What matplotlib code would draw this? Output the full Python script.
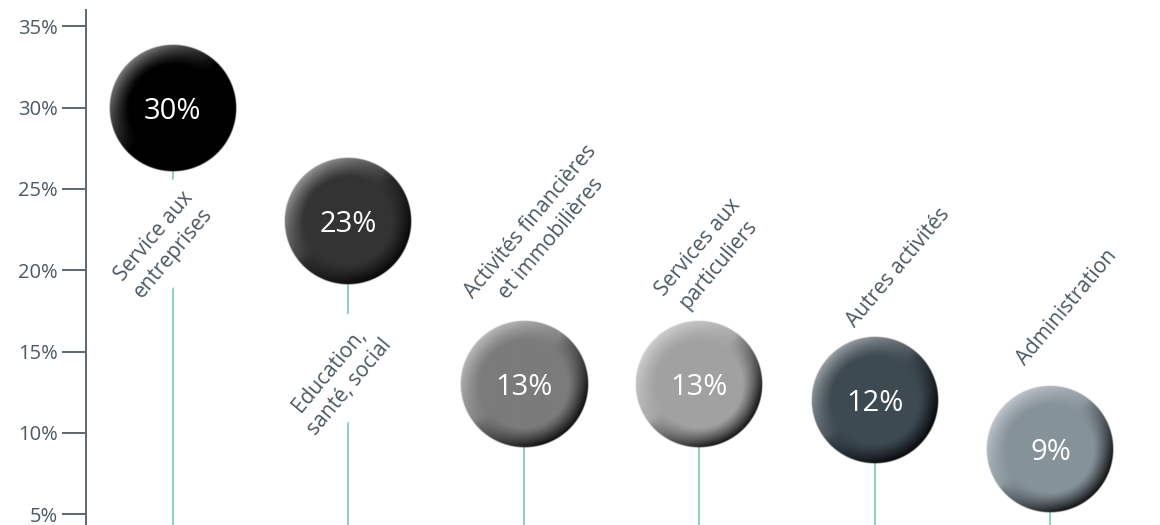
import numpy as np
import matplotlib
matplotlib.use("Agg")
import matplotlib.pyplot as plt
from matplotlib.colors import to_rgb

# Share of jobs by sector
categories = [
    "Service aux\nentreprises",
    "Education,\nsanté, social",
    "Activités financières\net immobilières",
    "Services aux\nparticuliers",
    "Autres activités",
    "Administration",
]
values = [30, 23, 13, 13, 12, 9]
value_labels = ["30%", "23%", "13%", "13%", "12%", "9%"]
ytick_values = [5, 10, 15, 20, 25, 30, 35]
ytick_labels = ["5%", "10%", "15%", "20%", "25%", "30%", "35%"]

# Styling
ball_colors = ["#000000", "#333333", "#7b7b7b", "#a2a2a2", "#3e4a52", "#86929a"]
stem_color = "#8fd1bb"
text_color = "#4b5962"
axis_color = "#5b6870"
radius_px = 64
# label centre offset from ball centre, in pixels (x right, y up)
label_offsets = [(-9, -137), (-9, -157), (17, 154), (9, 128), (24, 133), (17, 142)]
label_on_stem = [True, True, False, False, False, False]

plt.rcParams["font.family"] = ["Open Sans", "DejaVu Sans"]

W, H, DPI = 1160, 525, 100
fig = plt.figure(figsize=(W / DPI, H / DPI), dpi=DPI)
left_px, top_px = 86, 10
ax = fig.add_axes([left_px / W, 0, 1 - left_px / W, (H - top_px) / H])
xlim = (-0.495, 5.624)
ylim = (4.34, 36)
ax.set_xlim(*xlim)
ax.set_ylim(*ylim)

ax_w_px = W * (1 - left_px / W)
ax_h_px = H - top_px
dx = (xlim[1] - xlim[0]) / ax_w_px   # data units per pixel
dy = (ylim[1] - ylim[0]) / ax_h_px

for s in ["top", "right", "bottom"]:
    ax.spines[s].set_visible(False)
ax.spines["left"].set_color(axis_color)
ax.spines["left"].set_linewidth(1.4)
ax.set_xticks([])
ax.set_yticks(ytick_values)
ax.set_yticklabels(ytick_labels)
ax.tick_params(axis="y", direction="out", length=17, width=1.4, color=axis_color,
               labelcolor=text_color, labelsize=14.5, pad=3.5)

x = np.arange(len(categories))

# stems
ax.vlines(x, ylim[0], values, color=stem_color, lw=1.5, zorder=1)


def sphere_image(color, n=256):
    base = np.array(to_rgb(color))
    g = np.linspace(-1, 1, n)
    u, v = np.meshgrid(g, -g)
    r = np.hypot(u, v)
    rs = np.where(r == 0, 1e-6, r)
    d = (-u + v) / (np.sqrt(2) * rs)          # +1 upper-left, -1 lower-right
    bevel = np.clip((r - 0.68) / 0.32, 0, 1)
    bevel = bevel ** 1.2
    light = np.clip(d, 0, 1) ** 0.9 * bevel * 0.5
    dark = np.clip(-d + 0.15, 0, 1) ** 0.8 * bevel * 0.92
    rgb = base[None, None, :] * (1 - light[..., None]) + light[..., None]
    rgb = rgb * (1 - np.clip(dark, 0, 1)[..., None])
    alpha = np.clip((1 - r) * n / 4.0, 0, 1)
    return np.dstack([rgb, alpha])


for i, (val, col, lab, cat) in enumerate(zip(values, ball_colors, value_labels, categories)):
    rx, ry = radius_px * dx, radius_px * dy
    img = sphere_image(col)
    ax.imshow(img, extent=[i - rx, i + rx, val - ry, val + ry], aspect="auto",
              interpolation="bilinear", zorder=3)
    ax.text(i, val, lab, ha="center", va="center_baseline", color="white",
            fontsize=21, zorder=4)
    ox, oy = label_offsets[i]
    kw = {}
    if label_on_stem[i]:
        kw["bbox"] = dict(boxstyle="square,pad=0.55", fc="white", ec="none")
    ax.text(i + ox * dx, val + oy * dy, cat, rotation=50, ha="center", va="center",
            color=text_color, fontsize=15, linespacing=1.3, multialignment="center",
            zorder=2, **kw)

ax.set_xlim(*xlim)
ax.set_ylim(*ylim)
fig.savefig("out.png", dpi=DPI)
